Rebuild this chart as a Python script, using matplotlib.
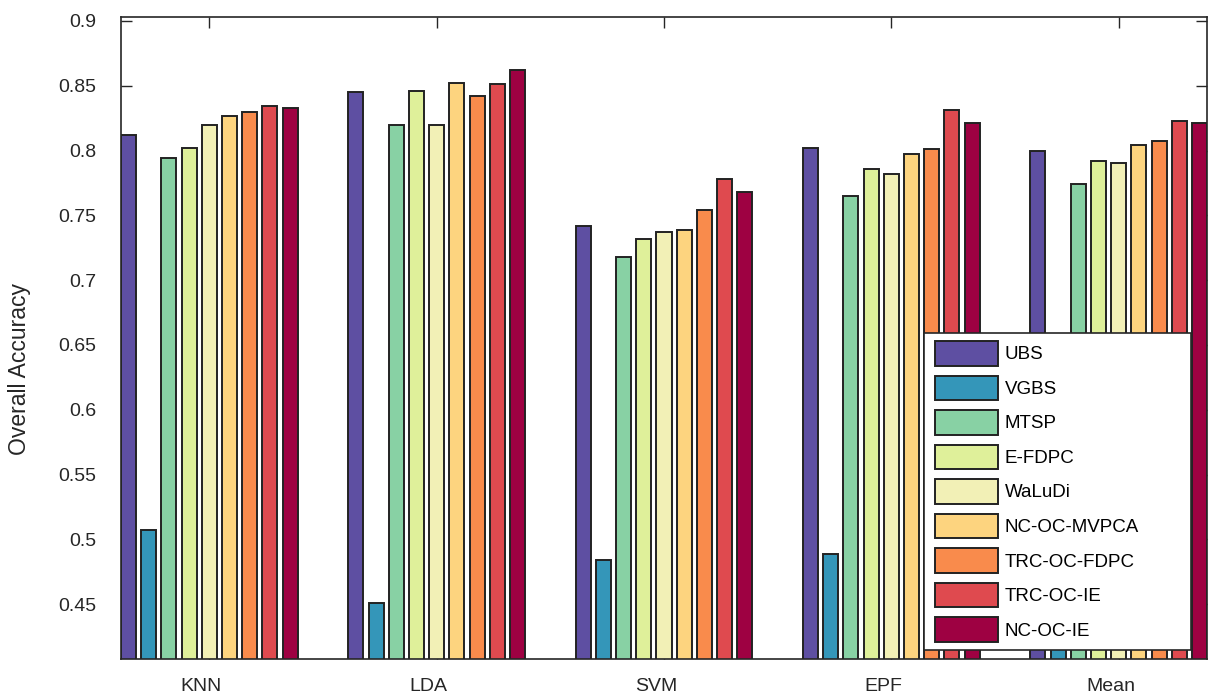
import numpy as np
import matplotlib
matplotlib.use("Agg")
import matplotlib.pyplot as plt
import matplotlib.transforms as mtransforms
from matplotlib.patches import Rectangle

# Classifiers on the x axis
groups = ["KNN", "LDA", "SVM", "EPF", "Mean"]

# Band selection methods
methods = ["UBS", "VGBS", "MTSP", "E-FDPC", "WaLuDi",
           "NC-OC-MVPCA", "TRC-OC-FDPC", "TRC-OC-IE", "NC-OC-IE"]

# Overall accuracy per method, one value per classifier (KNN, LDA, SVM, EPF, Mean)
ubs = [0.812, 0.845, 0.742, 0.802, 0.800]
vgbs = [0.507, 0.451, 0.484, 0.489, 0.483]
mtsp = [0.794, 0.820, 0.718, 0.765, 0.774]
efdpc = [0.802, 0.846, 0.732, 0.786, 0.792]
waludi = [0.820, 0.820, 0.737, 0.782, 0.790]
nc_oc_mvpca = [0.827, 0.852, 0.739, 0.797, 0.804]
trc_oc_fdpc = [0.830, 0.842, 0.754, 0.801, 0.807]
trc_oc_ie = [0.834, 0.851, 0.778, 0.831, 0.823]
nc_oc_ie = [0.833, 0.862, 0.768, 0.821, 0.821]

series = [ubs, vgbs, mtsp, efdpc, waludi, nc_oc_mvpca, trc_oc_fdpc, trc_oc_ie, nc_oc_ie]

colors = ["#5e4fa2", "#3496b9", "#88d1a4", "#dff09a", "#f2f0b6",
          "#fdd47f", "#f98b4c", "#df4a4f", "#9e0142"]

plt.rcParams['font.family'] = ['Liberation Sans', 'DejaVu Sans']

W, H = 1215, 700
fig = plt.figure(figsize=(W / 100, H / 100), dpi=100)
ax = fig.add_axes([121 / W, 1 - 659 / H, (1207 - 121) / W, (659 - 17) / H])

x = np.arange(1, len(groups) + 1)
step = 0.8 / len(methods)
width = 0.066
for k, (name, vals, c) in enumerate(zip(methods, series, colors)):
    offs = (k - (len(methods) - 1) / 2) * step
    ax.bar(x + offs, vals, width, color=c, edgecolor="#222222", linewidth=1.4,
           label=name, zorder=2)

ax.set_xlim(1 - 4 * step - width / 2, 5 + 4 * step + width / 2)
ax.set_ylim(0.4077, 0.903)
ax.set_yticks([0.45, 0.5, 0.55, 0.6, 0.65, 0.7, 0.75, 0.8, 0.85, 0.9])
ax.set_yticklabels(["0.45", "0.5", "0.55", "0.6", "0.65", "0.7", "0.75", "0.8", "0.85", "0.9"])
ax.set_xticks(x)
ax.set_xticklabels(groups)

ax.tick_params(direction="in", length=8, width=1, colors="#262626", labelsize=14,
               top=True, right=True)
ax.tick_params(axis="x", pad=14)
ax.tick_params(axis="y", pad=18)
# shift category labels a little to the left, as in the original
shift = mtransforms.ScaledTranslation(-8 / 100, 0, fig.dpi_scale_trans)
for lab in ax.get_xticklabels():
    lab.set_transform(lab.get_transform() + shift)

for sp in ax.spines.values():
    sp.set_color("#262626")
    sp.set_linewidth(1.2)

ax.set_ylabel("Overall Accuracy", fontsize=16.5, color="#262626")
ax.yaxis.set_label_coords((31 - 121) / 1086, 0.452)

# legend box (wider than the entries, as in the original)
box = Rectangle((924 / W, 1 - 650 / H), (1191 - 924) / W, (650 - 333) / H,
                transform=fig.transFigure, facecolor="white", edgecolor="#262626",
                linewidth=1.2, zorder=4, clip_on=False)
ax.add_patch(box)

leg = ax.legend(loc="upper left", bbox_to_anchor=(935 / W, 1 - 341 / H),
                bbox_transform=fig.transFigure, fontsize=13.5, frameon=False,
                handlelength=3.36, handleheight=1.64, labelspacing=0.53,
                borderpad=0, handletextpad=0.35, borderaxespad=0)
leg.set_zorder(5)

fig.savefig("out.png", dpi=100)
